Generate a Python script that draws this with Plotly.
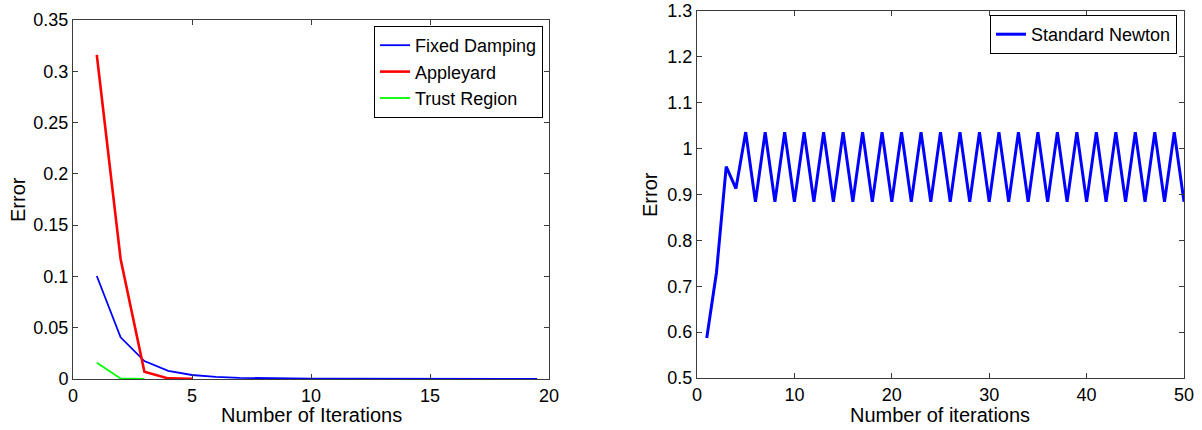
import plotly.graph_objects as go

W, H = 1202, 430

# ---- Left chart data ----
x_fd = [1, 2, 3, 4, 5, 6, 7, 8, 9, 10, 11, 12, 13, 14, 15, 16, 17, 18, 19, 19.5]
y_fd = [0.1004, 0.0406, 0.0175, 0.008, 0.0039, 0.002, 0.0011, 0.0007, 0.0005, 0.0004,
        0.0003, 0.0003, 0.0002, 0.0002, 0.0002, 0.0001, 0.0001, 0.0001, 0.0001, 0.0001]
x_ap = [1, 2, 3, 4, 5]
y_ap = [0.316, 0.117, 0.007, 0.0006, 0.0001]
x_tr = [1, 2, 3]
y_tr = [0.0159, 0.0005, 0.0001]

left_xticks = [0, 5, 10, 15, 20]
left_yticks = [0, 0.05, 0.1, 0.15, 0.2, 0.25, 0.3, 0.35]
left_yticklabels = ["0", "0.05", "0.1", "0.15", "0.2", "0.25", "0.3", "0.35"]

# ---- Right chart data ----
x_sn = list(range(1, 51))
y_sn = [0.587, 0.73, 0.961, 0.913,
        1.036, 0.884, 1.036, 0.884, 1.036, 0.884, 1.036, 0.884, 1.036, 0.884,
        1.036, 0.884, 1.036, 0.884, 1.036, 0.884, 1.036, 0.884, 1.036, 0.884,
        1.036, 0.884, 1.036, 0.884, 1.036, 0.884, 1.036, 0.884, 1.036, 0.884,
        1.036, 0.884, 1.036, 0.884, 1.036, 0.884, 1.036, 0.884, 1.036, 0.884,
        1.036, 0.884, 1.036, 0.884, 1.036, 0.884]

right_xticks = [0, 10, 20, 30, 40, 50]
right_yticks = [0.5, 0.6, 0.7, 0.8, 0.9, 1.0, 1.1, 1.2, 1.3]
right_yticklabels = ["0.5", "0.6", "0.7", "0.8", "0.9", "1", "1.1", "1.2", "1.3"]

FONT = "Liberation Sans, Arial, sans-serif"
FS = 18
FT = 20
AX = "#3c3c3c"

def px(x):
    return x / W

def py(y):
    return 1 - y / H

fig = go.Figure()
fig.add_trace(go.Scatter(x=x_fd, y=y_fd, mode="lines", name="Fixed Damping",
                         line=dict(color="#0000ff", width=1.8), xaxis="x", yaxis="y", legend="legend"))
fig.add_trace(go.Scatter(x=x_ap, y=y_ap, mode="lines", name="Appleyard",
                         line=dict(color="#ff0000", width=2.6), xaxis="x", yaxis="y", legend="legend"))
fig.add_trace(go.Scatter(x=x_tr, y=y_tr, mode="lines", name="Trust Region",
                         line=dict(color="#00ff00", width=1.8), xaxis="x", yaxis="y", legend="legend"))
fig.add_trace(go.Scatter(x=x_sn, y=y_sn, mode="lines", name="Standard Newton",
                         line=dict(color="#0000ff", width=3), xaxis="x2", yaxis="y2", legend="legend2"))

axis_common = dict(showline=True, linecolor=AX, linewidth=1, mirror="ticks", ticks="inside",
                   ticklen=5, tickcolor=AX, showgrid=False, zeroline=False,
                   tickfont=dict(family=FONT, size=FS, color="black"), automargin=False,
                   fixedrange=True)

fig.update_layout(
    width=W, height=H,
    margin=dict(l=0, r=0, t=0, b=0),
    paper_bgcolor="white", plot_bgcolor="white",
    showlegend=True,
    xaxis=dict(domain=[px(73), px(549)], range=[0, 20], tickvals=left_xticks,
               anchor="y", **axis_common),
    yaxis=dict(domain=[py(379), py(20)], range=[0, 0.35], tickvals=left_yticks,
               ticktext=left_yticklabels, anchor="x", **axis_common),
    xaxis2=dict(domain=[px(697), px(1184)], range=[0, 50], tickvals=right_xticks,
                anchor="y2", **axis_common),
    yaxis2=dict(domain=[py(378), py(11)], range=[0.5, 1.3], tickvals=right_yticks,
                ticktext=right_yticklabels, anchor="x2", **axis_common),
    legend=dict(x=px(543), y=py(26), xanchor="right", yanchor="top",
                bgcolor="white", bordercolor="black", borderwidth=1,
                font=dict(family=FONT, size=FS, color="black"), itemwidth=30,
                tracegroupgap=0),
    legend2=dict(x=px(1177), y=py(15), xanchor="right", yanchor="top",
                 bgcolor="white", bordercolor="black", borderwidth=1,
                 font=dict(family=FONT, size=FS, color="black"), itemwidth=30),
    annotations=[
        dict(text="Number of Iterations", x=px(311), y=py(415), xref="paper", yref="paper",
             xanchor="center", yanchor="middle", showarrow=False,
             font=dict(family=FONT, size=FT, color="black")),
        dict(text="Number of iterations", x=px(940), y=py(415), xref="paper", yref="paper",
             xanchor="center", yanchor="middle", showarrow=False,
             font=dict(family=FONT, size=FT, color="black")),
        dict(text="Error", x=px(18), y=py(200), xref="paper", yref="paper",
             xanchor="center", yanchor="middle", showarrow=False, textangle=-90,
             font=dict(family=FONT, size=FT, color="black")),
        dict(text="Error", x=px(650), y=py(195), xref="paper", yref="paper",
             xanchor="center", yanchor="middle", showarrow=False, textangle=-90,
             font=dict(family=FONT, size=FT, color="black")),
    ],
)

fig.write_html("out.html")
